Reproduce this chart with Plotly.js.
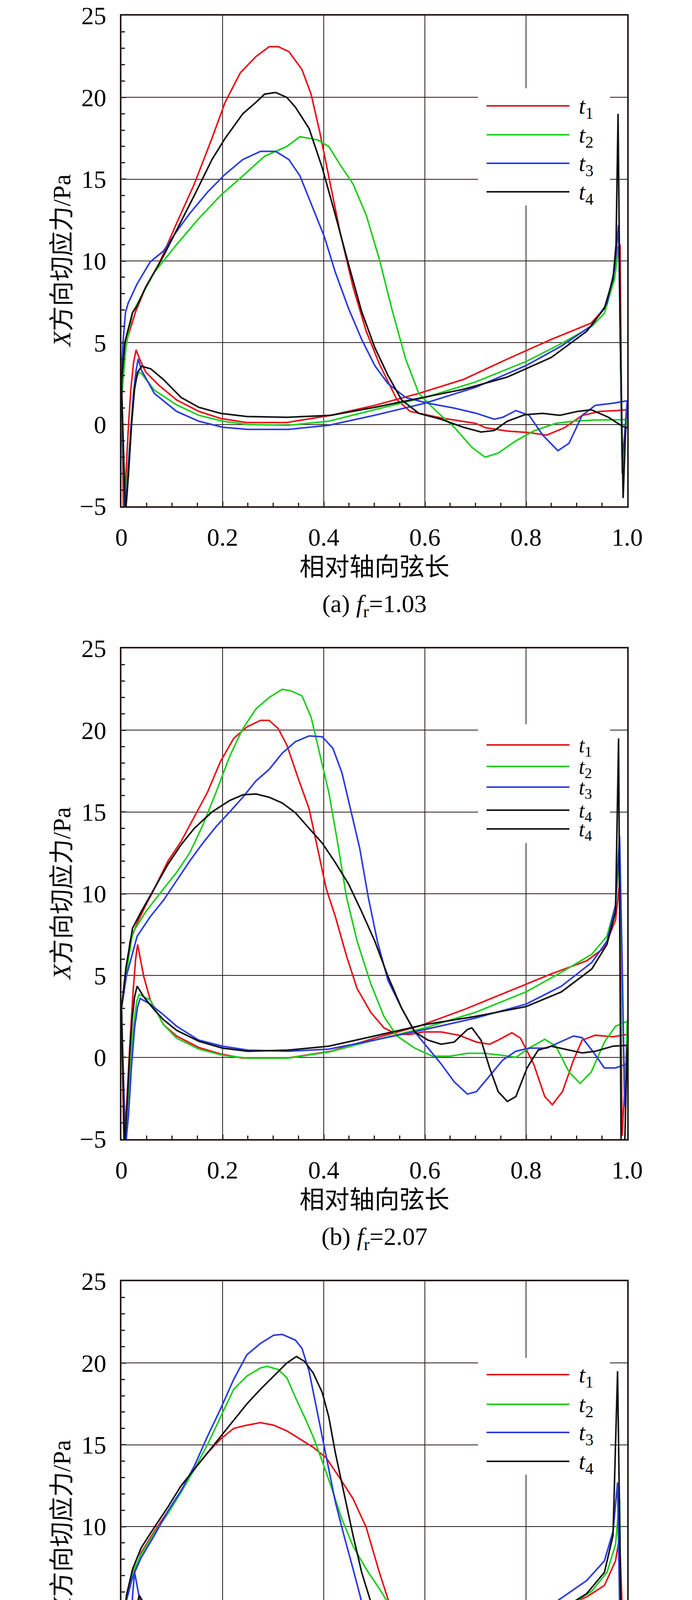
<!DOCTYPE html>
<html>
<head>
<meta charset="utf-8">
<script src="https://cdn.plot.ly/plotly-3.0.1.min.js"></script>
<style>
  body { margin: 0; background: #fff; }
  #chart { width: 1772px; height: 4844px; }
</style>
</head>
<body>
<div id="chart"></div>
<script>
// ---- tick labels / captions ----
var xTickVals = [0, 0.2, 0.4, 0.6, 0.8, 1.0];
var xTickText = ['0', '0.2', '0.4', '0.6', '0.8', '1.0'];
var seriesNames = ['t1', 't2', 't3', 't4'];
var captions = ['(a) <i>f</i><sub>r</sub>=1.03', '(b) <i>f</i><sub>r</sub>=2.07', '(c) <i>f</i><sub>r</sub>=3.09'];

// ---- (a) fr=1.03 : upper (suction) branch and lower branch of each curve ----
var a1UpX = [0.0, 0.009, 0.028, 0.048, 0.074, 0.109, 0.144, 0.179, 0.205, 0.235, 0.266, 0.292, 0.31, 0.331, 0.357, 0.375, 0.392, 0.41, 0.432, 0.458, 0.484, 0.51, 0.545, 0.571, 0.632, 0.70, 0.72, 0.763, 0.806, 0.841, 0.876, 0.911, 0.946, 0.98, 1.0];
var a1UpY = [2.0, 5.0, 6.9, 8.4, 9.8, 12.3, 14.7, 17.5, 19.7, 21.5, 22.5, 23.1, 23.1, 22.8, 21.7, 20.2, 17.9, 15.2, 11.8, 8.4, 5.7, 3.7, 1.5, 0.8, 0.4, 0.07, -0.2, -0.4, -0.5, -0.65, -0.2, 0.55, 0.8, 0.85, 0.9];
var a1LoX = [0.0, 0.004, 0.009, 0.014, 0.019, 0.024, 0.029, 0.036, 0.048, 0.074, 0.109, 0.153, 0.196, 0.248, 0.327, 0.414, 0.501, 0.588, 0.676, 0.763, 0.85, 0.929, 0.955, 0.972, 0.981, 0.986, 0.99, 0.994, 1.0];
var a1LoY = [2.0, -5.5, -3.0, 0.0, 2.3, 3.8, 4.56, 4.0, 3.2, 2.4, 1.5, 0.8, 0.37, 0.12, 0.12, 0.56, 1.17, 1.9, 2.75, 4.0, 5.2, 6.2, 7.1, 8.9, 10.8, 11.0, -3.0, -1.0, 0.9];

var a2UpX = [0.0, 0.009, 0.022, 0.031, 0.065, 0.109, 0.153, 0.196, 0.24, 0.283, 0.327, 0.353, 0.388, 0.41, 0.432, 0.458, 0.484, 0.51, 0.536, 0.562, 0.588, 0.623, 0.658, 0.693, 0.719, 0.745, 0.78, 0.815, 0.859, 0.894, 0.937, 1.0];
var a2UpY = [1.5, 4.8, 6.85, 7.4, 9.3, 11.0, 12.6, 14.0, 15.2, 16.4, 17.0, 17.6, 17.4, 17.0, 15.9, 14.7, 12.8, 10.1, 6.9, 4.0, 1.9, 0.8, -0.17, -1.4, -2.0, -1.75, -1.0, -0.4, 0.07, 0.2, 0.27, 0.3];
var a2LoX = [0.0, 0.006, 0.012, 0.018, 0.024, 0.03, 0.035, 0.04, 0.065, 0.109, 0.153, 0.2, 0.25, 0.33, 0.41, 0.5, 0.6, 0.7, 0.8, 0.87, 0.93, 0.955, 0.975, 0.984, 0.99, 0.994, 1.0];
var a2LoY = [1.5, -5.5, -3.0, -0.5, 1.8, 2.9, 3.2, 3.1, 2.1, 1.2, 0.56, 0.2, 0.0, -0.05, 0.2, 0.9, 1.65, 2.6, 3.85, 4.95, 6.0, 6.8, 8.9, 11.0, -3.0, -1.0, 0.3];

var a3UpX = [0.0, 0.003, 0.008, 0.013, 0.031, 0.057, 0.083, 0.109, 0.135, 0.17, 0.205, 0.24, 0.275, 0.305, 0.331, 0.353, 0.379, 0.401, 0.423, 0.449, 0.475, 0.501, 0.527, 0.562, 0.606, 0.658, 0.702, 0.737, 0.754, 0.78, 0.806, 0.833, 0.863, 0.885, 0.911, 0.937, 0.972, 1.0];
var a3UpY = [3.0, 5.0, 6.85, 7.4, 8.6, 9.95, 10.6, 11.8, 12.9, 14.2, 15.3, 16.2, 16.7, 16.7, 16.2, 15.2, 13.2, 11.5, 9.3, 7.1, 5.2, 3.6, 2.5, 1.65, 1.3, 1.0, 0.68, 0.32, 0.44, 0.85, 0.56, -0.65, -1.6, -1.15, 0.56, 1.17, 1.3, 1.45];
var a3LoX = [0.0, 0.006, 0.012, 0.018, 0.024, 0.029, 0.033, 0.04, 0.065, 0.109, 0.153, 0.2, 0.25, 0.33, 0.41, 0.5, 0.6, 0.7, 0.8, 0.87, 0.93, 0.96, 0.975, 0.983, 0.99, 0.994, 1.0];
var a3LoY = [3.0, -5.5, -3.5, -0.5, 2.0, 3.3, 4.0, 3.3, 1.9, 0.8, 0.2, -0.17, -0.3, -0.3, -0.05, 0.56, 1.3, 2.27, 3.6, 4.8, 6.05, 7.4, 9.5, 12.2, -2.0, -1.0, 1.45];

var a4UpX = [0.0, 0.0065, 0.022, 0.03, 0.048, 0.083, 0.109, 0.144, 0.179, 0.205, 0.24, 0.266, 0.283, 0.305, 0.327, 0.344, 0.371, 0.397, 0.423, 0.449, 0.475, 0.501, 0.527, 0.554, 0.588, 0.632, 0.676, 0.711, 0.737, 0.763, 0.798, 0.833, 0.867, 0.902, 0.929, 0.963, 0.99, 1.0];
var a4UpY = [2.5, 5.0, 6.85, 7.2, 8.4, 10.3, 11.9, 14.0, 16.2, 17.5, 19.0, 19.7, 20.2, 20.3, 20.0, 19.4, 18.1, 15.7, 12.8, 9.8, 6.9, 4.7, 3.0, 1.5, 0.68, 0.32, -0.17, -0.46, -0.37, 0.2, 0.6, 0.68, 0.56, 0.8, 0.9, 0.44, -0.1, -0.2];
var a4LoX = [0.0, 0.008, 0.014, 0.02, 0.026, 0.032, 0.04, 0.058, 0.083, 0.118, 0.153, 0.196, 0.248, 0.327, 0.414, 0.501, 0.588, 0.676, 0.763, 0.85, 0.92, 0.955, 0.972, 0.978, 0.982, 0.986, 0.992, 0.997, 1.0];
var a4LoY = [2.5, -5.5, -3.0, 0.0, 2.2, 3.2, 3.56, 3.4, 2.75, 1.65, 1.05, 0.68, 0.49, 0.44, 0.56, 1.05, 1.6, 2.15, 2.9, 4.1, 5.7, 7.1, 8.9, 11.0, 19.0, 6.0, -4.5, -0.2, -0.2];

// ---- (b) fr=2.07 ----
var b1UpX = [0.0, 0.009, 0.017, 0.031, 0.048, 0.065, 0.092, 0.118, 0.144, 0.17, 0.196, 0.222, 0.248, 0.275, 0.292, 0.31, 0.327, 0.349, 0.371, 0.388, 0.405, 0.423, 0.445, 0.466, 0.493, 0.519, 0.545, 0.571, 0.597, 0.632, 0.667, 0.702, 0.728, 0.745, 0.772, 0.789, 0.815, 0.837, 0.852, 0.872, 0.894, 0.911, 0.937, 0.972, 1.0];
var b1UpY = [3.0, 4.95, 7.1, 8.2, 9.3, 10.3, 12.0, 13.2, 14.7, 16.2, 18.1, 19.5, 20.2, 20.6, 20.6, 20.1, 19.1, 17.1, 15.2, 12.8, 10.3, 8.6, 6.2, 4.2, 2.75, 1.8, 1.4, 1.4, 1.55, 1.55, 1.35, 0.93, 0.8, 1.05, 1.5, 1.17, -0.4, -2.4, -2.9, -2.1, -0.17, 1.05, 1.35, 1.25, 1.4];
var b1LoX = [0.0, 0.005, 0.011, 0.017, 0.023, 0.028, 0.032, 0.044, 0.057, 0.083, 0.109, 0.153, 0.196, 0.24, 0.327, 0.414, 0.501, 0.588, 0.676, 0.763, 0.85, 0.92, 0.955, 0.977, 0.985, 0.99, 0.995, 1.0];
var b1LoY = [3.0, -5.5, -2.5, 1.0, 4.0, 6.0, 6.9, 4.95, 3.5, 2.0, 1.3, 0.6, 0.2, -0.05, -0.05, 0.37, 1.17, 1.9, 2.9, 4.0, 5.1, 5.9, 6.7, 8.4, 10.6, -4.8, -2.0, 1.4];

var b2UpX = [0.0, 0.009, 0.022, 0.048, 0.083, 0.109, 0.135, 0.161, 0.187, 0.214, 0.24, 0.266, 0.292, 0.318, 0.336, 0.357, 0.375, 0.392, 0.41, 0.427, 0.445, 0.466, 0.493, 0.519, 0.545, 0.58, 0.615, 0.65, 0.684, 0.719, 0.754, 0.78, 0.806, 0.837, 0.859, 0.885, 0.907, 0.929, 0.955, 0.977, 1.0];
var b2UpY = [3.0, 5.0, 7.6, 8.9, 10.3, 11.3, 12.5, 14.2, 16.2, 18.4, 20.1, 21.3, 22.0, 22.5, 22.4, 22.1, 20.8, 18.6, 16.2, 13.2, 9.8, 7.1, 4.5, 2.5, 1.3, 0.56, 0.07, 0.07, 0.24, 0.24, 0.12, 0.0, 0.56, 1.1, 0.68, -0.9, -1.6, -0.9, 0.93, 1.9, 2.2];
var b2LoX = [0.0, 0.006, 0.012, 0.018, 0.024, 0.03, 0.035, 0.057, 0.083, 0.109, 0.153, 0.2, 0.25, 0.33, 0.41, 0.5, 0.6, 0.7, 0.8, 0.87, 0.93, 0.96, 0.977, 0.985, 0.99, 0.995, 1.0];
var b2LoY = [3.0, -5.5, -3.0, -0.5, 2.0, 3.4, 3.85, 3.5, 2.0, 1.17, 0.5, 0.12, -0.05, -0.05, 0.32, 1.05, 1.8, 2.75, 4.0, 5.2, 6.3, 7.4, 9.3, 12.5, 5.0, -3.0, 2.2];

var b3UpX = [0.0, 0.01, 0.031, 0.057, 0.083, 0.109, 0.135, 0.161, 0.187, 0.214, 0.24, 0.266, 0.292, 0.318, 0.344, 0.371, 0.397, 0.418, 0.436, 0.453, 0.471, 0.488, 0.506, 0.527, 0.554, 0.58, 0.606, 0.632, 0.658, 0.684, 0.702, 0.728, 0.754, 0.78, 0.806, 0.841, 0.867, 0.894, 0.911, 0.933, 0.955, 0.977, 1.0];
var b3UpY = [3.0, 5.0, 7.4, 8.6, 9.6, 10.8, 12.0, 13.1, 14.1, 15.0, 15.9, 16.9, 17.6, 18.6, 19.3, 19.65, 19.6, 18.9, 17.4, 15.2, 12.8, 9.8, 7.1, 4.7, 3.0, 1.55, 0.56, -0.4, -1.5, -2.25, -2.1, -1.15, -0.17, 0.37, 0.56, 0.56, 0.93, 1.3, 1.2, 0.32, -0.65, -0.65, -0.4];
var b3LoX = [0.0, 0.008, 0.014, 0.02, 0.026, 0.032, 0.037, 0.057, 0.083, 0.109, 0.153, 0.2, 0.25, 0.33, 0.41, 0.5, 0.6, 0.7, 0.8, 0.87, 0.93, 0.96, 0.977, 0.985, 0.99, 0.995, 1.0];
var b3LoY = [3.0, -5.5, -3.5, -0.5, 1.8, 3.1, 3.6, 3.25, 2.6, 1.9, 1.05, 0.68, 0.44, 0.37, 0.5, 1.05, 1.7, 2.4, 3.25, 4.35, 5.8, 7.1, 9.3, 13.5, 6.0, -3.0, -0.4];

var b4UpX = [0.0, 0.009, 0.022, 0.039, 0.065, 0.092, 0.118, 0.144, 0.179, 0.214, 0.24, 0.266, 0.292, 0.318, 0.344, 0.371, 0.397, 0.423, 0.449, 0.475, 0.501, 0.527, 0.554, 0.58, 0.606, 0.632, 0.658, 0.684, 0.693, 0.711, 0.728, 0.745, 0.763, 0.78, 0.802, 0.824, 0.85, 0.876, 0.911, 0.937, 0.972, 1.0];
var b4UpY = [3.0, 5.5, 7.9, 8.9, 10.3, 11.8, 13.0, 14.0, 15.0, 15.7, 16.05, 16.1, 15.9, 15.55, 14.95, 14.0, 13.1, 11.9, 10.6, 8.9, 7.1, 4.95, 3.0, 1.55, 1.05, 0.8, 0.93, 1.7, 1.8, 1.05, -0.65, -2.1, -2.7, -2.4, -0.65, 0.44, 0.68, 0.5, 0.27, 0.37, 0.68, 0.73];
var b4LoX = [0.0, 0.006, 0.011, 0.016, 0.021, 0.026, 0.031, 0.044, 0.065, 0.083, 0.109, 0.153, 0.2, 0.25, 0.33, 0.41, 0.5, 0.6, 0.7, 0.8, 0.87, 0.93, 0.96, 0.977, 0.983, 0.988, 0.995, 1.0];
var b4LoY = [3.0, -5.5, -3.0, 0.0, 2.3, 3.7, 4.35, 3.7, 2.9, 2.3, 1.65, 0.98, 0.56, 0.37, 0.44, 0.68, 1.3, 2.0, 2.5, 3.1, 4.0, 5.4, 6.9, 8.9, 19.5, -5.5, -5.5, 0.73];

// ---- (c) fr=3.09 ----
var c1UpX = [0.0, 0.009, 0.022, 0.039, 0.065, 0.092, 0.118, 0.144, 0.17, 0.196, 0.222, 0.248, 0.275, 0.301, 0.327, 0.353, 0.379, 0.405, 0.432, 0.458, 0.484, 0.51, 0.536, 0.562, 0.588, 0.606, 0.623, 0.641, 0.658, 0.68, 0.697, 0.719, 0.745, 0.772, 0.793, 0.815, 0.833, 0.854, 0.88, 0.902, 0.929, 0.955, 0.981, 1.0];
var c1UpY = [3.0, 5.5, 6.9, 8.4, 9.7, 10.95, 12.2, 13.5, 14.5, 15.35, 16.0, 16.2, 16.35, 16.2, 15.85, 15.35, 14.85, 14.2, 12.95, 11.7, 9.95, 7.2, 4.7, 3.2, 2.3, 2.0, 0.9, -0.35, -1.35, -2.0, -1.8, -0.73, -0.23, -0.05, 0.65, 1.4, 1.15, -0.6, -2.1, -1.35, 0.65, 1.4, 1.8, 2.3];
var c1LoX = [0.0, 0.006, 0.012, 0.018, 0.024, 0.028, 0.032, 0.048, 0.074, 0.109, 0.153, 0.196, 0.24, 0.327, 0.414, 0.501, 0.588, 0.676, 0.763, 0.85, 0.92, 0.955, 0.977, 0.985, 0.99, 0.995, 1.0];
var c1LoY = [3.0, -5.5, -2.5, 0.5, 2.8, 3.8, 4.2, 3.3, 2.4, 1.4, 0.7, 0.33, 0.15, 0.1, 0.53, 1.28, 2.0, 2.9, 3.8, 4.8, 5.7, 6.4, 7.9, 9.4, 5.0, -2.0, 2.3];

var c2UpX = [0.0, 0.009, 0.022, 0.039, 0.065, 0.092, 0.118, 0.144, 0.17, 0.196, 0.222, 0.248, 0.275, 0.288, 0.31, 0.327, 0.344, 0.362, 0.379, 0.397, 0.414, 0.436, 0.458, 0.484, 0.51, 0.536, 0.562, 0.588, 0.615, 0.641, 0.667, 0.684, 0.702, 0.719, 0.732, 0.75, 0.772, 0.798, 0.824, 0.85, 0.872, 0.894, 0.915, 0.937, 0.963, 1.0];
var c2UpY = [3.0, 5.5, 7.2, 8.3, 9.6, 10.8, 12.1, 13.5, 15.0, 16.7, 18.4, 19.2, 19.7, 19.8, 19.6, 19.1, 17.9, 16.7, 15.5, 14.0, 12.5, 10.45, 8.8, 7.4, 6.2, 4.9, 3.4, 1.9, 1.3, 1.0, 1.3, 0.9, -0.35, -1.85, -2.6, -2.25, -1.1, 0.15, 1.0, 1.45, 1.15, -0.35, -1.25, -0.6, 0.65, 1.4];
var c2LoX = [0.0, 0.006, 0.011, 0.016, 0.021, 0.025, 0.029, 0.044, 0.065, 0.092, 0.109, 0.153, 0.2, 0.25, 0.33, 0.41, 0.5, 0.6, 0.7, 0.8, 0.87, 0.93, 0.96, 0.977, 0.985, 0.99, 0.995, 1.0];
var c2LoY = [3.0, -5.5, -2.5, 0.5, 3.2, 4.6, 5.5, 3.7, 2.5, 1.65, 1.28, 0.65, 0.28, 0.15, 0.1, 0.48, 1.2, 1.9, 2.8, 3.9, 4.9, 6.05, 7.2, 8.9, 11.7, -3.0, -1.0, 1.4];

var c3UpX = [0.0, 0.01, 0.022, 0.039, 0.065, 0.092, 0.118, 0.144, 0.17, 0.196, 0.222, 0.248, 0.275, 0.301, 0.318, 0.344, 0.357, 0.371, 0.384, 0.397, 0.41, 0.423, 0.44, 0.458, 0.475, 0.497, 0.519, 0.545, 0.58, 0.615, 0.65, 0.676, 0.693, 0.711, 0.724, 0.741, 0.758, 0.776, 0.798, 0.824, 0.85, 0.876, 0.894, 0.915, 0.937, 0.959, 0.981, 1.0];
var c3UpY = [3.0, 5.5, 6.9, 8.1, 9.45, 10.95, 12.2, 13.7, 15.5, 17.2, 19.0, 20.5, 21.2, 21.7, 21.75, 21.4, 20.9, 19.5, 17.5, 15.5, 13.5, 11.5, 9.45, 7.4, 5.4, 3.4, 1.9, 1.0, 0.85, 0.9, 0.8, 0.85, 1.15, 1.9, 1.65, -0.1, -1.85, -2.3, -1.6, -0.1, 0.9, 1.55, 1.6, 0.9, -0.35, -0.85, -0.23, 0.53];
var c3LoX = [0.0, 0.006, 0.01, 0.014, 0.018, 0.022, 0.026, 0.035, 0.048, 0.074, 0.109, 0.153, 0.196, 0.24, 0.327, 0.414, 0.501, 0.588, 0.676, 0.763, 0.85, 0.92, 0.955, 0.972, 0.981, 0.99, 0.995, 1.0];
var c3LoY = [3.0, -5.5, -2.5, 0.5, 3.5, 5.8, 7.2, 5.7, 3.9, 2.3, 1.28, 0.53, 0.2, 0.1, 0.1, 0.45, 1.28, 2.0, 2.9, 3.8, 5.2, 6.7, 7.9, 9.7, 12.7, -4.0, -1.0, 0.53];

var c4UpX = [0.0, 0.01, 0.022, 0.039, 0.065, 0.092, 0.118, 0.144, 0.17, 0.196, 0.222, 0.248, 0.275, 0.301, 0.327, 0.346, 0.362, 0.379, 0.397, 0.41, 0.423, 0.44, 0.458, 0.475, 0.493, 0.51, 0.527, 0.545, 0.562, 0.58, 0.602, 0.619, 0.641, 0.667, 0.693, 0.719, 0.737, 0.754, 0.767, 0.785, 0.802, 0.824, 0.841, 0.863, 0.885, 0.911, 0.941, 0.963, 0.981, 1.0];
var c4UpY = [3.0, 5.8, 7.4, 8.7, 9.95, 11.2, 12.5, 13.5, 14.5, 15.5, 16.5, 17.5, 18.4, 19.2, 20.0, 20.4, 20.1, 19.4, 18.2, 16.7, 14.5, 12.0, 9.45, 7.2, 5.4, 3.9, 2.65, 1.65, 0.65, -0.1, -0.6, -0.35, 0.28, 0.8, 0.9, 0.83, 1.03, 1.65, 1.85, 1.15, -0.85, -2.35, -2.1, -0.35, 0.9, 1.4, 1.6, 1.28, 0.4, 0.0];
var c4LoX = [0.0, 0.007, 0.013, 0.019, 0.025, 0.03, 0.035, 0.052, 0.07, 0.092, 0.118, 0.153, 0.196, 0.24, 0.327, 0.414, 0.501, 0.588, 0.676, 0.763, 0.85, 0.92, 0.955, 0.972, 0.981, 0.99, 0.992, 0.997, 1.0];
var c4LoY = [3.0, -5.5, -2.5, 0.5, 3.3, 5.0, 5.8, 4.9, 3.7, 2.3, 1.28, 0.65, 0.28, 0.1, 0.08, 0.45, 1.2, 1.9, 2.8, 3.55, 4.55, 5.9, 7.2, 9.45, 19.5, -0.6, -4.8, 0.0, 0.0];

// ---- styling ----
var colors = ['#e8121b', '#1ecf1e', '#2b3be0', '#111111'];
var SERIF = '"Liberation Serif", "Times New Roman", "Noto Sans CJK SC", serif';
var INK = '#231815';
var W = 1772, H = 4844;
var plotL = 311, plotR = 1606, plotH = 1256;
var panelTops = [40, 1660, 3280];
var yMin = -5, yMax = 25;

var panels = [
  [[a1UpX, a1UpY, a1LoX, a1LoY], [a2UpX, a2UpY, a2LoX, a2LoY], [a3UpX, a3UpY, a3LoX, a3LoY], [a4UpX, a4UpY, a4LoX, a4LoY]],
  [[b1UpX, b1UpY, b1LoX, b1LoY], [b2UpX, b2UpY, b2LoX, b2LoY], [b3UpX, b3UpY, b3LoX, b3LoY], [b4UpX, b4UpY, b4LoX, b4LoY]],
  [[c1UpX, c1UpY, c1LoX, c1LoY], [c2UpX, c2UpY, c2LoX, c2LoY], [c3UpX, c3UpY, c3LoX, c3LoY], [c4UpX, c4UpY, c4LoX, c4LoY]]
];

// legend geometry per panel (px from the panel top): box top/bottom and the row centres
var legendBox = [[186, 486], [194, 498], [196, 495]];
var legendRows = [[231, 305, 378, 451], [247, 302, 355, 414, 462], [239, 315, 387, 461]];
var legendColors = [colors, colors.concat(['#111111']), colors];
var legendLabels = [seriesNames, seriesNames.concat(['t4']), seriesNames];
var legendFont = [60, 54, 60];

function py(px) { return 1 - px / H; }
// pixel -> data coordinates inside a panel
function dataX(px) { return (px - plotL) / (plotR - plotL); }
function dataY(rel) { return yMax - rel / plotH * (yMax - yMin); }
function subLabel(name) { return '<i>' + name.charAt(0) + '</i><sub>' + name.slice(1) + '</sub>'; }

var data = [];
var shapes = [];
var annotations = [];
var layout = {
  width: W, height: H,
  margin: {l: 0, r: 0, t: 0, b: 0},
  paper_bgcolor: '#fff', plot_bgcolor: '#fff',
  showlegend: false,
  font: {family: SERIF, color: '#000'}
};

panels.forEach(function (panel, p) {
  var sfx = p === 0 ? '' : String(p + 1);
  var top = panelTops[p];

  panel.forEach(function (s, k) {
    // lower branch from the leading edge to the trailing edge, then back along the upper branch
    var xs = s[2].concat(s[0].slice().reverse());
    var ys = s[3].concat(s[1].slice().reverse());
    data.push({
      type: 'scatter', mode: 'lines', x: xs, y: ys,
      xaxis: 'x' + sfx, yaxis: 'y' + sfx, name: seriesNames[k],
      line: {color: colors[k], width: 4}
    });
  });

  layout['xaxis' + sfx] = {
    domain: [plotL / W, plotR / W], anchor: 'y' + sfx,
    range: [0, 1], tickmode: 'array', tickvals: xTickVals, ticktext: xTickText,
    ticks: 'inside', ticklen: 12, tickwidth: 3, tickcolor: INK,
    minor: {tickmode: 'linear', tick0: 0, dtick: 0.05, ticks: 'inside', ticklen: 9, tickwidth: 3, tickcolor: INK, showgrid: false},
    showline: true, mirror: true, linewidth: 4, linecolor: INK,
    showgrid: true, gridcolor: INK, gridwidth: 2, zeroline: false,
    tickfont: {family: SERIF, size: 64, color: '#000'}, ticklabelstandoff: 20
  };
  layout['yaxis' + sfx] = {
    domain: [py(top + plotH), py(top)], anchor: 'x' + sfx,
    range: [yMin, yMax], tickmode: 'linear', tick0: 0, dtick: 5,
    ticks: 'inside', ticklen: 12, tickwidth: 3, tickcolor: INK,
    minor: {tickmode: 'linear', tick0: 0, dtick: 1, ticks: 'inside', ticklen: 9, tickwidth: 3, tickcolor: INK, showgrid: false},
    showline: true, mirror: true, linewidth: 4, linecolor: INK,
    showgrid: true, gridcolor: INK, gridwidth: 2, zeroline: false,
    tickfont: {family: SERIF, size: 64, color: '#000'}, ticklabelstandoff: 22
  };

  // axis titles and caption
  annotations.push({
    xref: 'paper', yref: 'paper', x: 158 / W, y: py(top + plotH / 2),
    text: '<i>X</i>方向切应力/Pa', textangle: -90, showarrow: false,
    xanchor: 'center', yanchor: 'middle', font: {family: SERIF, size: 64, color: '#000'}
  });
  annotations.push({
    xref: 'paper', yref: 'paper', x: (plotL + plotR) / 2 / W, y: py(top + plotH + 155),
    text: '相对轴向弦长', showarrow: false,
    xanchor: 'center', yanchor: 'middle', font: {family: SERIF, size: 64, color: '#000'}
  });
  annotations.push({
    xref: 'paper', yref: 'paper', x: (plotL + plotR) / 2 / W, y: py(top + plotH + 254),
    text: captions[p], showarrow: false,
    xanchor: 'center', yanchor: 'middle', font: {family: SERIF, size: 64, color: '#000'}
  });

  // legend: white box over the grid, sample lines and labels
  var xr = 'x' + sfx, yr = 'y' + sfx;
  shapes.push({
    type: 'rect', xref: xr, yref: yr, layer: 'between',
    x0: dataX(1224), x1: dataX(1562), y0: dataY(legendBox[p][1]), y1: dataY(legendBox[p][0]),
    fillcolor: '#ffffff', line: {width: 0}
  });
  legendRows[p].forEach(function (row, k) {
    shapes.push({
      type: 'line', xref: xr, yref: yr, layer: 'above',
      x0: dataX(1246), x1: dataX(1458), y0: dataY(row), y1: dataY(row),
      line: {color: legendColors[p][k], width: 4}
    });
    annotations.push({
      xref: xr, yref: yr, x: dataX(1480), y: dataY(row + 4),
      text: subLabel(legendLabels[p][k]), showarrow: false,
      xanchor: 'left', yanchor: 'middle', font: {family: SERIF, size: legendFont[p], color: '#000'}
    });
  });
});

layout.shapes = shapes;
layout.annotations = annotations;

Plotly.newPlot('chart', data, layout, {displayModeBar: false, staticPlot: true});
</script>
</body>
</html>
